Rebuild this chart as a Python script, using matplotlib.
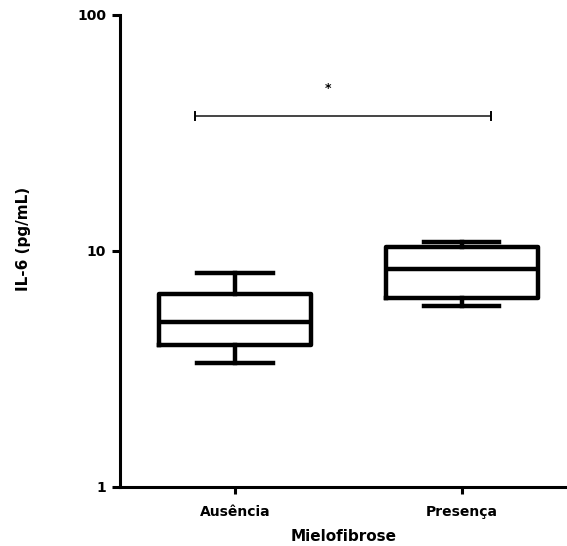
import matplotlib
matplotlib.use("Agg")
import matplotlib.pyplot as plt
from matplotlib.ticker import FixedLocator, NullLocator

# Box-plot summary statistics (IL-6, pg/mL)
groups = ["Ausência", "Presença"]
whisker_low = [3.36, 5.85]
q1 = [4.00, 6.30]
median = [5.02, 8.39]
q3 = [6.57, 10.37]
whisker_high = [8.05, 10.95]

# Significance bracket
sig_level = 37.4
sig_span = [-0.176, 1.128]
sig_label = "*"
sig_label_x = 0.41

y_ticks = [1, 10, 100]
y_tick_labels = ["1", "10", "100"]

plt.rcParams["font.family"] = ["DejaVu Sans"]

fig = plt.figure(figsize=(5.67, 5.46), dpi=100)
ax = fig.add_axes([120 / 567, 1 - 487 / 546, 447 / 567, (487 - 15) / 546])

stats = []
for g, lo, a, m, b, hi in zip(groups, whisker_low, q1, median, q3, whisker_high):
    stats.append(dict(label=g, whislo=lo, q1=a, med=m, q3=b, whishi=hi, fliers=[]))

lw = 3.2
ax.bxp(stats, positions=[0, 1], widths=0.67, showfliers=False,
       boxprops=dict(color="black", linewidth=lw),
       medianprops=dict(color="black", linewidth=lw),
       whiskerprops=dict(color="black", linewidth=lw),
       capprops=dict(color="black", linewidth=lw),
       capwidths=0.334, manage_ticks=False)

ax.set_yscale("log")
ax.set_ylim(1, 100)
ax.set_xlim(-0.507, 1.465)

ax.yaxis.set_major_locator(FixedLocator(y_ticks))
ax.yaxis.set_minor_locator(NullLocator())
ax.set_yticklabels(y_tick_labels)
ax.set_xticks([0, 1])
ax.set_xticklabels(groups)

for s in ["top", "right"]:
    ax.spines[s].set_visible(False)
for s in ["left", "bottom"]:
    ax.spines[s].set_linewidth(2.2)

ax.tick_params(axis="y", length=6, width=2.2, labelsize=10, pad=4)
ax.tick_params(axis="x", length=5, width=2.2, labelsize=10, pad=8)
for lab in ax.get_xticklabels() + ax.get_yticklabels():
    lab.set_fontweight("bold")

ax.set_xlabel("Mielofibrose", fontsize=11, fontweight="bold", labelpad=7)
ax.set_ylabel("IL-6 (pg/mL)", fontsize=11, fontweight="bold")
ax.yaxis.set_label_coords(-0.2, 0.525)

# significance bracket
ax.plot(sig_span, [sig_level, sig_level], color="#444444", linewidth=1.4, solid_capstyle="butt")
for x in sig_span:
    ax.plot([x, x], [sig_level * 0.96, sig_level * 1.04], color="black", linewidth=1.4)
ax.text(sig_label_x, sig_level * 1.3, sig_label, ha="center", va="center",
        fontsize=9, fontweight="bold")

fig.savefig("out.png", dpi=100)
